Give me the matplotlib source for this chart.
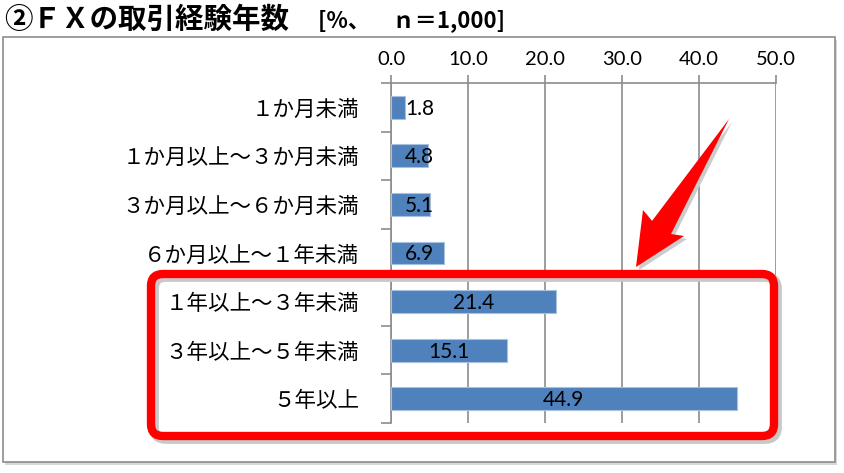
import matplotlib.pyplot as plt
from matplotlib.patches import Rectangle, FancyBboxPatch, Polygon
from matplotlib.transforms import IdentityTransform

# data
categories = ['１か月未満', '１か月以上～３か月未満', '３か月以上～６か月未満',
              '６か月以上～１年未満', '１年以上～３年未満', '３年以上～５年未満', '５年以上']
values = [1.8, 4.8, 5.1, 6.9, 21.4, 15.1, 44.9]
x_ticks = [0, 10, 20, 30, 40, 50]
title_main = '②ＦＸの取引経験年数'
title_sub = '[%、　ｎ＝1,000]'

W, H = 844, 473
fig = plt.figure(figsize=(W / 100, H / 100), dpi=100)
fig.patch.set_facecolor('white')

def px(x, y):
    # pixel coords (top-left origin) -> display coords
    return x, H - y

# outer chart frame with a light shadow
frame_shadow = Rectangle(px(5, 465), 832, 425, transform=IdentityTransform(),
                         facecolor='#d8d8d8', edgecolor='none', zorder=-3)
frame = Rectangle(px(3, 462), 832, 425, transform=IdentityTransform(),
                  facecolor='white', edgecolor='#8c8c8c', linewidth=1.2, zorder=-2)
fig.patches.extend([frame_shadow, frame])

ax = fig.add_axes([391 / W, 1 - 423 / H, 385 / W, 340 / H])
ax.set_facecolor('none')
ypos = list(range(len(categories)))
ax.barh(ypos, values, height=0.47, color='#4f81bd', edgecolor='#a9c0de',
        linewidth=0.8, zorder=3)

for y, v in zip(ypos, values):
    ax.text(max(v / 2, 3.7), y + 0.03, f'{v:.1f}', ha='center', va='center',
            fontsize=15, family='Lato', color='black', zorder=4)

ax.set_xlim(0, 50)
ax.set_ylim(len(categories) - 0.5, -0.5)
ax.set_xticks(x_ticks)
ax.set_xticklabels([f'{t:.1f}' for t in x_ticks], family='Lato', fontsize=14.5)
ax.xaxis.tick_top()
ax.tick_params(axis='x', direction='out', length=6, color='#8c8c8c', width=1.2, pad=5)
ax.grid(axis='x', color='#8c8c8c', linewidth=1.2, zorder=1)

ax.set_yticks(ypos)
ax.set_yticklabels(categories, family='Noto Sans CJK JP', fontsize=15.5)
ax.tick_params(axis='y', which='major', length=0, pad=23)
ax.set_yticks([i - 0.5 for i in range(len(categories) + 1)], minor=True)
ax.tick_params(axis='y', which='minor', direction='out', length=7,
               color='#8c8c8c', width=1.2)

for s in ['right', 'bottom']:
    ax.spines[s].set_visible(False)
for s in ['left', 'top']:
    ax.spines[s].set_color('#8c8c8c')
    ax.spines[s].set_linewidth(1.2)

# title
fig.text(4 / W, 1 - 20 / H, title_main, family='Noto Sans CJK JP', fontweight='bold',
         fontsize=20.5, va='center', ha='left')
fig.text(318 / W, 1 - 21 / H, title_sub, family=['Noto Sans CJK JP', 'DejaVu Sans'],
         fontweight='bold', fontsize=16, va='center', ha='left')

# red highlight box
hl_shadow = FancyBboxPatch(px(154, 439), 623, 162, transform=IdentityTransform(),
                           boxstyle='round,pad=0,rounding_size=12', facecolor='none',
                           edgecolor='#c8c8c8', linewidth=7, zorder=5)
hl = FancyBboxPatch(px(151, 436), 623, 162, transform=IdentityTransform(),
                    boxstyle='round,pad=0,rounding_size=12', facecolor='none',
                    edgecolor='#ff0000', linewidth=6, zorder=6)
fig.patches.extend([hl_shadow, hl])

# red arrow
arrow_pts = [(729, 119), (652, 221), (643, 210), (636, 267), (684, 236), (671, 234)]
arrow_shadow = Polygon([px(x + 3, y + 3) for x, y in arrow_pts], closed=True,
                       transform=IdentityTransform(), facecolor='#cccccc',
                       edgecolor='none', zorder=5)
arrow = Polygon([px(x, y) for x, y in arrow_pts], closed=True,
                transform=IdentityTransform(), facecolor='#ff0000',
                edgecolor='none', zorder=6)
fig.patches.extend([arrow_shadow, arrow])

fig.savefig('out.png', dpi=100, facecolor='white')
